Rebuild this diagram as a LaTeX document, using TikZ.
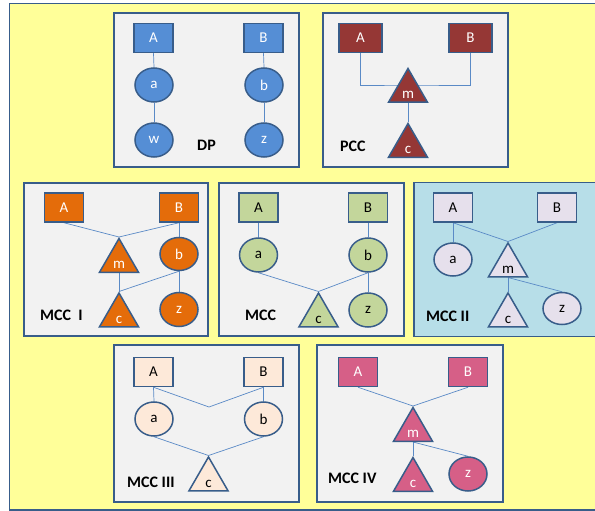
\documentclass[tikz,border=0pt]{standalone}
\usepackage{fontspec}
\setmainfont{Carlito}
\usetikzlibrary{shapes.geometric}
\pgfdeclarelayer{panels}
\pgfdeclarelayer{links}
\pgfsetlayers{panels,links,main}

\definecolor{edge}{HTML}{385D8A}
\definecolor{wire}{HTML}{5A8AC6}
\definecolor{paper}{HTML}{FFFF99}
\definecolor{panelbg}{HTML}{F2F2F2}
\definecolor{panelblue}{HTML}{B7DEE8}
\definecolor{dpfill}{HTML}{558ED5}
\definecolor{pccfill}{HTML}{953735}
\definecolor{mccifill}{HTML}{E46C0A}
\definecolor{mccfill}{HTML}{C3D69B}
\definecolor{mcciifill}{HTML}{E6E0EC}
\definecolor{mcciiifill}{HTML}{FDE9D9}
\definecolor{mccivfill}{HTML}{D65F87}

% text inside a triangle sits low, near the base
\newcommand\tritext[1]{\raisebox{-7.5pt}[0pt][0pt]{#1}}

\tikzset{
  panel/.style={draw=edge, line width=1.5pt, fill=panelbg},
  boxnode/.style={rectangle, draw=edge, line width=1.5pt, minimum width=39pt,
    minimum height=29pt, inner sep=0pt, font=\fontsize{15}{15}\selectfont},
  ellnode/.style={ellipse, draw=edge, line width=1.5pt, minimum width=38pt,
    minimum height=34pt, inner sep=0pt, font=\fontsize{15}{15}\selectfont},
  trinode/.style={regular polygon, regular polygon sides=3, draw=edge,
    line width=1.5pt, minimum size=45pt, inner sep=0pt,
    font=\fontsize{15}{15}\selectfont},
  link/.style={draw=wire, line width=0.7pt},
  tag/.style={anchor=west, inner sep=0pt, font=\bfseries\fontsize{16}{16}\selectfont},
}

\begin{document}
\begin{tikzpicture}[x=1pt, y=-1pt]
\useasboundingbox (0,0) rectangle (595,511);

\begin{pgfonlayer}{panels}
  \begin{scope}
  \clip (0,0) rectangle (595,511);
  \fill[white] (0,0) rectangle (595,511);
  \draw[fill=paper, draw=edge, line width=1.8pt] (9.5,3.5) rectangle (610,509.8);
  \draw[panel] (114,13) rectangle (299,167);
  \draw[panel] (323,13) rectangle (508,167);
  \draw[panel] (24,183) rectangle (208,336);
  \draw[panel] (219,183) rectangle (404,336);
  \draw[panel, fill=panelblue] (414,182.5) rectangle (610,336.5);
  \draw[panel] (114,345) rectangle (299,502);
  \draw[panel] (317,345) rectangle (503,502);
  \end{scope}
\end{pgfonlayer}

% ---- DP
\begin{scope}[every node/.append style={fill=dpfill, text=white}]
  \node[boxnode] (dpA) at (153.5,38) {A};
  \node[boxnode] (dpB) at (263.5,38) {B};
  \node[ellnode] (dpa) at (154,85) {a};
  \node[ellnode] (dpb) at (264,85) {b};
  \node[ellnode] (dpw) at (154,140) {w};
  \node[ellnode] (dpz) at (264,140) {z};
\end{scope}
\node[tag] (dptag) at (197,145) {DP};
\begin{pgfonlayer}{links}
  \draw[link] (dpA.south) -- (dpa.north);
  \draw[link] (dpa.south) -- (dpw.north);
  \draw[link] (dpB.south) -- (dpb.north);
  \draw[link] (dpb.south) -- (dpz.north);
\end{pgfonlayer}

% ---- PCC
\begin{scope}[every node/.append style={fill=pccfill, text=white}]
  \node[boxnode, minimum width=43pt] (pccA) at (360.5,38) {A};
  \node[boxnode, minimum width=43pt] (pccB) at (470.5,38) {B};
  \node[trinode] (pccm) at (408,91) {\tritext{m}};
  \node[trinode] (pccc) at (408,146) {\tritext{c}};
\end{scope}
\node[tag] (pcctag) at (340,146) {PCC};
\coordinate (pccjoin) at (408,85);
\begin{pgfonlayer}{links}
  \draw[link] (pccA.south) |- (pccjoin) -| (pccB.south);
  \draw[link] (pccm.side 2) -- (pccc.corner 1);
\end{pgfonlayer}

% ---- MCC I
\begin{scope}[every node/.append style={fill=mccifill, text=white}]
  \node[boxnode] (iA) at (64,207.5) {A};
  \node[boxnode] (iB) at (179,207.5) {B};
  \node[trinode] (im) at (119,261) {\tritext{m}};
  \node[ellnode, minimum height=33pt] (ib) at (179,254) {b};
  \node[trinode] (ic) at (119,315.5) {\tritext{c}};
  \node[ellnode] (iz) at (179,309.5) {z};
\end{scope}
\node[tag] (itag) at (40,315) {MCC~~I};
\begin{pgfonlayer}{links}
  \draw[link] (iA.south) -- (im.corner 1);
  \draw[link] (iB.south) -- (im.corner 1);
  \draw[link] (iB.south) -- (ib.north);
  \draw[link] (im.side 2) -- (ic.corner 1);
  \draw[link] (ib.south) -- (ic.corner 1);
  \draw[link] (ib.south) -- (iz.north);
\end{pgfonlayer}

% ---- MCC
\begin{scope}[every node/.append style={fill=mccfill, text=black}]
  \node[boxnode] (nA) at (258.5,207.5) {A};
  \node[boxnode] (nB) at (368,207.5) {B};
  \node[ellnode] (na) at (258.5,255) {a};
  \node[ellnode] (nb) at (368,255) {b};
  \node[trinode] (nc) at (318.5,315.5) {\tritext{c}};
  \node[ellnode] (nz) at (368,310) {z};
\end{scope}
\node[tag] (ntag) at (245,315) {MCC};
\begin{pgfonlayer}{links}
  \draw[link] (nA.south) -- (na.north);
  \draw[link] (nB.south) -- (nb.north);
  \draw[link] (na.south) -- (nc.corner 1);
  \draw[link] (nb.south) -- (nc.corner 1);
  \draw[link] (nb.south) -- (nz.north);
\end{pgfonlayer}

% ---- MCC II
\begin{scope}[every node/.append style={fill=mcciifill, text=black}]
  \node[boxnode] (iiA) at (453,207.5) {A};
  \node[boxnode] (iiB) at (557,207.5) {B};
  \node[ellnode, minimum height=33pt] (iia) at (453,259.5) {a};
  \node[trinode] (iim) at (508,265.5) {\tritext{m}};
  \node[trinode] (iic) at (508,315.5) {\tritext{c}};
  \node[ellnode, minimum height=32pt] (iiz) at (562,308.5) {z};
\end{scope}
\node[tag] (iitag) at (426,316) {MCC II};
\begin{pgfonlayer}{links}
  \draw[link] (iiA.south) -- (iia.north);
  \draw[link] (iiA.south) -- (iim.corner 1);
  \draw[link] (iiB.south) -- (iim.corner 1);
  \draw[link] (iim.side 2) -- (iic.corner 1);
  \draw[link] (iim.side 2) -- (iiz.north);
\end{pgfonlayer}

% ---- MCC III
\begin{scope}[every node/.append style={fill=mcciiifill, text=black}]
  \node[boxnode] (iiiA) at (153.5,372) {A};
  \node[boxnode] (iiiB) at (263.5,372) {B};
  \node[ellnode] (iiia) at (154,419) {a};
  \node[ellnode] (iiib) at (263.5,419) {b};
  \node[trinode] (iiic) at (208.5,479.5) {\tritext{c}};
\end{scope}
\node[tag] (iiitag) at (127,482) {MCC III};
\coordinate (iiivee) at (209,407);
\begin{pgfonlayer}{links}
  \draw[link] (iiiA.south) -- (iiia.north);
  \draw[link] (iiiB.south) -- (iiib.north);
  \draw[link] (iiiA.south) -- (iiivee) -- (iiiB.south);
  \draw[link] (iiia.south) -- (iiic.corner 1);
  \draw[link] (iiib.south) -- (iiic.corner 1);
\end{pgfonlayer}

% ---- MCC IV
\begin{scope}[every node/.append style={fill=mccivfill, text=white}]
  \node[boxnode] (ivA) at (358,372) {A};
  \node[boxnode] (ivB) at (468,372) {B};
  \node[trinode] (ivm) at (413,430) {\tritext{m}};
  \node[trinode] (ivc) at (413,480) {\tritext{c}};
  \node[ellnode] (ivz) at (468,474) {z};
\end{scope}
\node[tag] (ivtag) at (328,478) {MCC IV};
\begin{pgfonlayer}{links}
  \draw[link] (ivA.south) -- (ivm.corner 1);
  \draw[link] (ivB.south) -- (ivm.corner 1);
  \draw[link] (ivm.side 2) -- (ivc.corner 1);
  \draw[link] (ivm.side 2) -- (ivz.north);
\end{pgfonlayer}
\end{tikzpicture}
\end{document}
